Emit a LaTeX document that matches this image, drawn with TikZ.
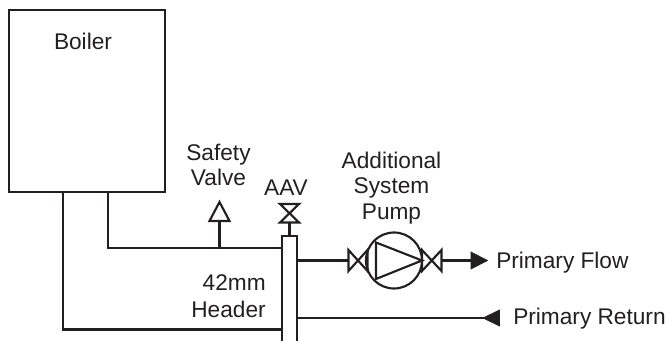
\documentclass[tikz,border=0pt]{standalone}
\usepackage{fontspec}
\setmainfont{Liberation Sans}
\definecolor{ink}{HTML}{231F20}
\tikzset{
  pipe/.style={draw=ink,line width=1.6pt},
  lbl/.style={inner sep=0pt,text=ink,font=\fontsize{17}{19}\selectfont,align=center,anchor=center},
  lbll/.style={inner sep=0pt,text=ink,font=\fontsize{17}{19}\selectfont,anchor=west},
  tip/.style={fill=ink,draw=ink,line width=.5pt,line join=miter},
}
\begin{document}
\begin{tikzpicture}[x=0.75pt,y=-0.75pt]
\useasboundingbox (0,0) rectangle (668,341);
% boiler
\node[pipe,minimum width=117pt,minimum height=136.5pt,inner sep=0pt,anchor=north west] (boiler) at (8,9) {};
\node[lbl] (tboiler) at (83,41) {Boiler};
% coordinates on boiler
\coordinate (b1) at (63,191);
\coordinate (b2) at (108,191);
\coordinate (h1) at (282,248);
\coordinate (h2) at (281,329.5);
\draw[pipe] (b1) |- (h2);
\draw[pipe] (b2) |- (h1);
% header
\coordinate (hl) at (282,341);
\coordinate (hr) at (297,341);
\draw[pipe] (hl) -- (282,236) -- (297,236) -- (hr);
% safety valve
\coordinate (sv) at (219.5,248);
\coordinate (svb) at (219.5,221);
\draw[pipe] (sv) -- (svb);
\draw[pipe,line join=miter] (209.5,221) -- (219.5,202) -- (229.5,221) -- cycle;
\node[lbl] (tsv) at (218.5,165) {Safety\\Valve};
% AAV
\coordinate (aavb) at (289.5,236);
\coordinate (aavt) at (289.5,223);
\draw[pipe] (aavb) -- (aavt);
\draw[pipe,line join=miter] (280,204) -- (299,204) -- (280,222.5) -- (299,222.5) -- cycle;
\node[lbl] (taav) at (286,188) {AAV};
% header label
\node[lbl,align=right,font=\fontsize{17}{20.5}\selectfont] (thdr) at (228.5,296.5) {42mm\\Header};
% flow
\coordinate (f0) at (297,260.5);
\coordinate (v1) at (348,260.5);
\coordinate (v2) at (442,260.5);
\coordinate (a1) at (471,260.5);
\draw[pipe] (f0) -- (v1);
\draw[pipe,line join=miter] (348.5,250) -- (348.5,271) -- (367.5,250) -- (367.5,271) -- cycle;
\node[pipe,circle,minimum size=42pt,inner sep=0pt] (pump) at (394,260.5) {};
\draw[pipe,line join=miter] (376,242.5) -- (376,279) -- (422,260.5) -- cycle;
\draw[pipe,line join=miter] (422,250) -- (422,271) -- (441.5,250) -- (441.5,271) -- cycle;
\draw[pipe] (v2) -- (a1);
\fill[tip] (471,252) -- (487.5,260.5) -- (471,269) -- cycle;
\node[lbll] (tflow) at (496,263) {Primary Flow};
% return
\coordinate (r0) at (297,318);
\coordinate (r1) at (484,318);
\draw[pipe] (r0) -- (r1);
\fill[tip] (499.5,310) -- (483,318) -- (499.5,326) -- cycle;
\node[lbll] (tret) at (513,319) {Primary Return};
\node[lbl] (tpump) at (391.5,188) {Additional\\System\\Pump};
\end{tikzpicture}
\end{document}
